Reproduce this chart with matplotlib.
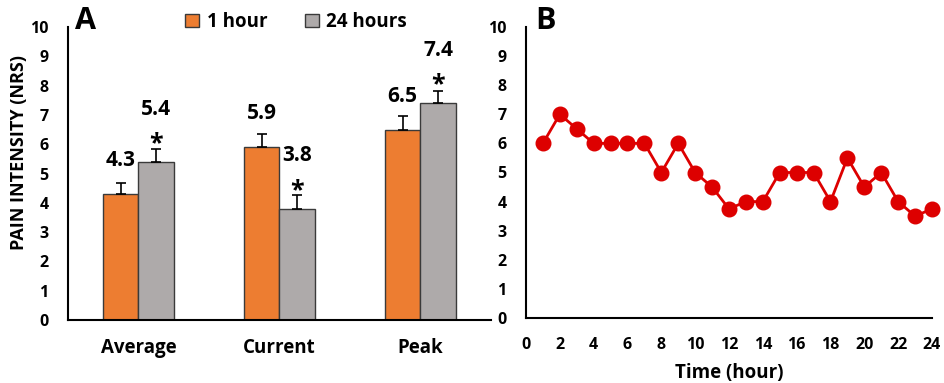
import matplotlib
matplotlib.use("Agg")
import matplotlib.pyplot as plt
import numpy as np
from matplotlib.patches import Patch

plt.rcParams['font.family'] = ['Open Sans', 'DejaVu Sans']
plt.rcParams['font.weight'] = 'bold'

categories = ["Average", "Current", "Peak"]
one_hour = [4.3, 5.9, 6.5]
twentyfour_hours = [5.4, 3.8, 7.4]
err_one = [0.38, 0.45, 0.45]
err_24 = [0.45, 0.45, 0.43]
significant_24 = [True, True, True]

hours = list(range(1, 25))
pain_by_hour = [6, 7, 6.5, 6, 6, 6, 6, 5, 6, 5, 4.5, 3.75, 4, 4, 5, 5, 5, 4, 5.5, 4.5, 5, 4, 3.5, 3.75]

ORANGE = "#ED7D31"
GRAY = "#AEAAAA"
EDGE = "#3a3a3a"
RED = "#DD0000"

fig = plt.figure(figsize=(9.45, 3.83), dpi=100)
W, H = 945, 383

def ax_rect(l, r, t, b):
    return [l / W, (H - b) / H, (r - l) / W, (b - t) / H]

# Panel A
ax = fig.add_axes(ax_rect(68, 491, 27, 320))
x = np.arange(len(categories))
bw = 0.252
ax.bar(x - bw / 2, one_hour, bw, color=ORANGE, edgecolor=EDGE, linewidth=1.0, zorder=2)
ax.bar(x + bw / 2, twentyfour_hours, bw, color=GRAY, edgecolor=EDGE, linewidth=1.0, zorder=2)
ax.errorbar(x - bw / 2, one_hour, yerr=[np.zeros(3), err_one], fmt='none', ecolor='black',
            elinewidth=1.2, capsize=3.5, capthick=1.2, zorder=3)
ax.errorbar(x + bw / 2, twentyfour_hours, yerr=[np.zeros(3), err_24], fmt='none', ecolor='black',
            elinewidth=1.2, capsize=3.5, capthick=1.2, zorder=3)
for i in range(3):
    ax.annotate(f"{one_hour[i]:.1f}", (x[i] - bw / 2, one_hour[i]), xytext=(0, 24),
                textcoords='offset points', ha='center', va='center', fontsize=15, fontweight='bold')
    ax.annotate(f"{twentyfour_hours[i]:.1f}", (x[i] + bw / 2, twentyfour_hours[i]), xytext=(0, 38),
                textcoords='offset points', ha='center', va='center', fontsize=15, fontweight='bold')
    if significant_24[i]:
        ax.annotate("*", (x[i] + bw / 2, twentyfour_hours[i]), xytext=(0, 13),
                    textcoords='offset points', ha='center', va='center', fontsize=18, fontweight='bold')
ax.set_xlim(-0.5, 2.5)
ax.set_ylim(0, 10)
ax.set_yticks(range(0, 11))
ax.set_xticks(x)
ax.set_xticklabels(categories, fontsize=13.5, fontweight='bold')
ax.tick_params(axis='x', length=0, pad=13)
ax.tick_params(axis='y', length=0, pad=14, labelsize=11.5)
for lab in ax.get_yticklabels():
    lab.set_fontweight('bold')
ax.spines['top'].set_visible(False)
ax.spines['right'].set_visible(False)
ax.spines['left'].set_linewidth(1.5)
ax.spines['bottom'].set_linewidth(1.5)
ax.set_ylabel("PAIN INTENSITY (NRS)", fontsize=13, fontweight='bold', va='center')
ax.yaxis.set_label_coords((19 - 68) / 423, (320 - 152.5) / 293)
handles = [Patch(facecolor=ORANGE, edgecolor=EDGE, label="1 hour"),
           Patch(facecolor=GRAY, edgecolor=EDGE, label="24 hours")]
fig.legend(handles=handles, loc='center', bbox_to_anchor=(296 / W, (H - 22) / H), ncol=2, frameon=False,
           prop={'size': 13.5, 'weight': 'bold'}, handlelength=0.75, handleheight=0.75, columnspacing=2.0,
           handletextpad=0.4)
fig.text(86 / W, (H - 21) / H, "A", fontsize=22, fontweight='bold', ha='center', va='center')

# Panel B
bx = fig.add_axes(ax_rect(526, 932, 27, 318))
bx.plot(hours, pain_by_hour, color=RED, linewidth=2.0, marker='o', markersize=10.5,
        markerfacecolor=RED, markeredgecolor=RED, zorder=3, clip_on=False)
bx.set_xlim(0, 24)
bx.set_ylim(0, 10)
bx.set_xticks(range(0, 25, 2))
bx.set_yticks(range(0, 11))
bx.tick_params(axis='both', length=0, labelsize=11.5)
bx.tick_params(axis='x', pad=14)
bx.tick_params(axis='y', pad=14)
for lab in bx.get_xticklabels() + bx.get_yticklabels():
    lab.set_fontweight('bold')
bx.spines['top'].set_visible(False)
bx.spines['right'].set_visible(False)
bx.spines['left'].set_linewidth(1.5)
bx.spines['bottom'].set_linewidth(1.5)
bx.set_xlabel("Time (hour)", fontsize=13.5, fontweight='bold', labelpad=7)
fig.text(546 / W, (H - 21) / H, "B", fontsize=22, fontweight='bold', ha='center', va='center')

fig.savefig("out.png", dpi=100)
